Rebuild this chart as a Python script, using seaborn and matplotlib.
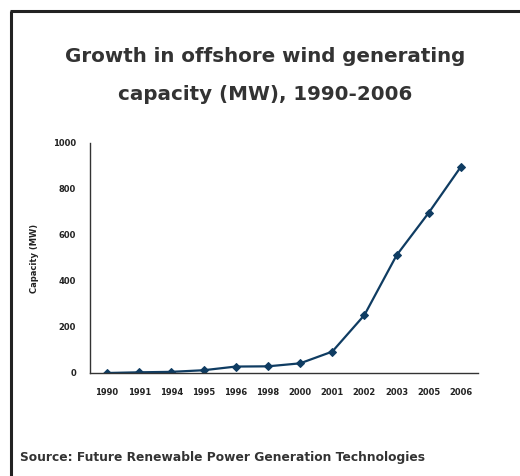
import matplotlib
matplotlib.use("Agg")
import matplotlib.pyplot as plt
from matplotlib.lines import Line2D
import seaborn as sns
import pandas as pd

years = ["1990", "1991", "1994", "1995", "1996", "1998", "2000", "2001", "2002", "2003", "2005", "2006"]
capacity = [0, 3, 5, 12, 28, 29, 42, 93, 252, 512, 697, 897]
y_ticks = [0, 200, 400, 600, 800, 1000]

df = pd.DataFrame({"year": years, "capacity": capacity})

sns.set_theme(style="white")
plt.rcParams["font.family"] = ["DejaVu Sans"]

fig = plt.figure(figsize=(5.2, 4.76), dpi=100)
ax = fig.add_axes([90 / 520, 1 - 373 / 476, (478 - 90) / 520, (373 - 143) / 476])

sns.lineplot(data=df, x="year", y="capacity", ax=ax, color="#0f3c62", linewidth=1.6,
             marker="D", markersize=4.5, markeredgecolor="#0f3c62", sort=False)

ax.set_xlim(-0.53, len(years) - 0.47)
ax.set_ylim(0, 1000)
ax.set_yticks(y_ticks)
ax.set_yticklabels([str(v) for v in y_ticks], fontsize=6, fontweight="bold", color="#222222")
ax.set_xticks(range(len(years)))
ax.set_xticklabels(years, fontsize=6, fontweight="bold", color="#222222")
ax.set_xticks([i - 0.5 for i in range(len(years) + 1)], minor=True)
ax.tick_params(axis="x", which="major", length=0, pad=11)
ax.tick_params(axis="x", which="minor", length=3, width=0.8, color="#333333", direction="out")
ax.tick_params(axis="y", which="major", length=4, width=0.8, color="#333333", direction="out", pad=6)
ax.set_xlabel("")
ax.set_ylabel("Capacity (MW)", fontsize=6, fontweight="bold", color="#222222", labelpad=10)
for s in ["top", "right"]:
    ax.spines[s].set_visible(False)
for s in ["left", "bottom"]:
    ax.spines[s].set_color("#333333")
    ax.spines[s].set_linewidth(1.0)

fig.text(265 / 520, 1 - 57 / 476, "Growth in offshore wind generating", ha="center", va="center",
         fontsize=14.3, fontweight="bold", color="#333333")
fig.text(265 / 520, 1 - 95 / 476, "capacity (MW), 1990-2006", ha="center", va="center",
         fontsize=14.3, fontweight="bold", color="#333333")
fig.text(20 / 520, 1 - 458 / 476, "Source: Future Renewable Power Generation Technologies",
         ha="left", va="center", fontsize=8.8, fontweight="bold", color="#333333")

fig.add_artist(Line2D([11 / 520, 11 / 520], [0, 1 - 11 / 476], transform=fig.transFigure,
                      color="#222222", linewidth=2.2, solid_capstyle="butt"))
fig.add_artist(Line2D([10 / 520, 1], [1 - 11 / 476, 1 - 11 / 476], transform=fig.transFigure,
                      color="#222222", linewidth=2.2, solid_capstyle="butt"))

fig.savefig("out.png", dpi=100)
